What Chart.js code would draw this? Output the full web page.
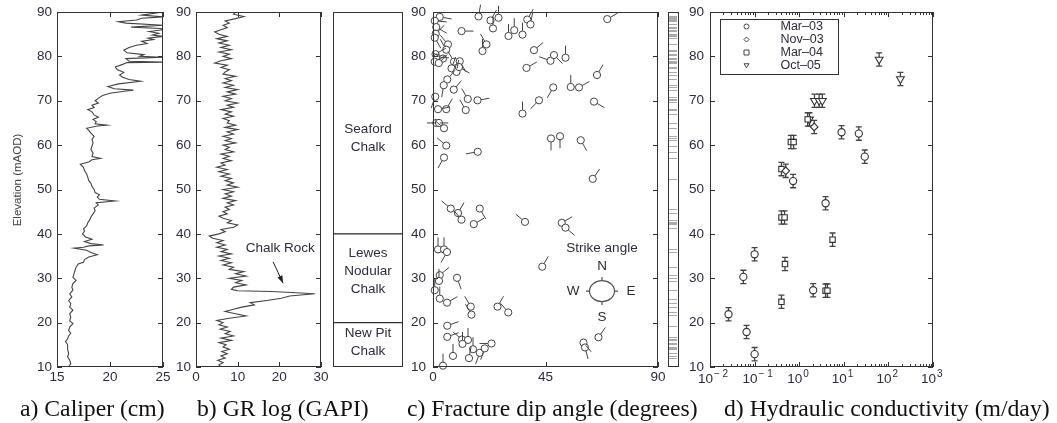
<!DOCTYPE html>
<html>
<head>
<meta charset="utf-8">
<script src="https://cdn.jsdelivr.net/npm/chart.js@4.4.0/dist/chart.umd.min.js"></script>
<style>
  body { margin: 0; background: #fff; width: 1057px; height: 423px; position: relative; overflow: hidden; }
  canvas { position: absolute; top: 0; }
  .cap { position: absolute; top: 397px; font: 23.7px "Liberation Serif", "Times New Roman", serif; color: #111; white-space: nowrap; line-height: 1; }
</style>
</head>
<body>
<canvas id="cal" width="172" height="423" style="left:0px"></canvas>
<canvas id="gr" width="156" height="423" style="left:172px"></canvas>
<canvas id="strat" width="80" height="423" style="left:328px"></canvas>
<canvas id="frac" width="278" height="423" style="left:408px"></canvas>
<canvas id="hyd" width="371" height="423" style="left:686px"></canvas>
<div class="cap" style="left:20px">a) Caliper (cm)</div>
<div class="cap" style="left:197px">b) GR log (GAPI)</div>
<div class="cap" style="left:407px">c) Fracture dip angle (degrees)</div>
<div class="cap" style="left:724px">d) Hydraulic conductivity (m/day)</div>
<script>
// ---- data ----
// [elevation mAOD, caliper cm]
const caliperLog = [
  [10.0,16.1],[10.8,16.3],[11.5,16.2],[12.3,16.0],[13.0,16.1],[14.0,16.0],[15.0,16.0],[15.8,15.8],
  [16.3,16.0],[17.0,16.1],[17.6,16.3],[18.2,16.1],[19.0,16.2],[19.8,16.5],[20.4,16.2],[21.2,16.3],
  [22.0,16.2],[22.8,16.5],[23.5,16.2],[24.3,16.3],[25.0,16.1],[25.8,16.4],[26.5,16.2],[27.3,16.5],
  [28.0,16.4],[28.8,16.5],[29.5,16.8],[30.2,16.5],[31.0,16.6],[31.8,16.7],[32.5,16.8],[33.2,17.0],
  [33.6,17.5],[34.2,17.6],[34.8,18.0],[35.3,18.8],[35.8,18.2],[36.3,17.8],[36.8,16.6],[37.0,17.5],
  [37.3,18.0],[37.5,19.4],[37.8,18.2],[38.3,17.6],[38.8,18.3],[39.3,17.7],[40.0,17.4],[40.6,17.6],
  [41.2,17.5],[41.8,17.8],[42.5,17.9],[43.2,18.1],[43.8,18.2],[44.5,18.4],[45.2,18.6],[45.8,18.5],
  [46.5,18.9],[47.0,18.7],[47.4,20.5],[47.8,19.0],[48.3,18.8],[48.8,19.0],[49.3,18.6],[50.0,18.5],
  [50.7,18.3],[51.4,18.2],[52.0,18.0],[52.8,17.9],[53.5,17.8],[54.2,17.6],[55.0,17.5],[55.7,17.2],
  [56.2,18.0],[56.7,18.3],[57.0,19.1],[57.4,18.3],[58.2,18.4],[59.0,18.2],[59.8,18.3],[60.5,18.4],
  [61.3,18.3],[62.0,18.5],[62.7,18.2],[63.3,18.0],[63.8,17.8],[64.3,18.8],[64.5,19.7],[64.8,18.6],
  [65.3,18.7],[65.8,18.4],[66.3,18.9],[66.8,18.5],[67.5,18.3],[68.0,17.9],[68.5,18.5],[69.0,18.3],
  [69.5,18.9],[70.0,18.6],[70.6,18.9],[71.2,19.3],[71.7,20.0],[72.2,21.5],[72.4,22.2],[72.7,20.4],
  [73.2,19.8],[73.8,20.8],[74.4,22.9],[74.8,21.8],[75.3,21.2],[75.8,20.9],[76.4,21.3],[77.0,20.7],
  [77.6,20.5],[78.2,21.2],[78.6,21.6],[78.7,25.0],[78.9,21.8],[79.5,21.5],[79.8,25.0],[80.0,22.8],
  [80.4,23.2],[80.8,21.6],[81.4,21.3],[82.0,21.8],[82.5,22.5],[82.9,23.5],[83.4,23.0],[83.8,24.1],
  [84.1,23.6],[84.5,25.0],[84.8,24.0],[85.2,24.6],[85.6,23.7],[86.0,25.0],[86.3,24.8],[86.6,22.0],
  [87.0,25.0],[87.5,21.5],[87.8,20.8],[88.2,22.5],[88.6,23.0],[88.9,25.0],[89.3,23.0],[90.0,25.0]
];

// [elevation mAOD, gamma ray GAPI]
const grLog = [
  [10.0,6.0],[10.5,5.5],[11.0,6.5],[11.5,5.2],[12.0,7.0],[12.5,6.0],[13.0,7.5],[13.5,6.2],[14.0,8.0],
  [14.5,6.5],[15.0,7.2],[15.5,5.5],[16.0,8.5],[16.5,6.0],[17.0,9.0],[17.5,7.0],[18.0,8.2],[18.5,5.8],
  [19.0,7.5],[19.5,5.5],[20.0,6.5],[20.5,5.0],[21.0,8.0],[21.5,12.0],[22.0,9.5],[22.5,7.0],[23.0,9.0],
  [23.5,11.0],[24.0,14.0],[24.5,13.0],[25.0,17.0],[25.5,20.5],[26.0,22.5],[26.5,28.5],[26.8,23.0],
  [27.0,18.0],[27.2,10.0],[27.5,8.5],[28.0,9.0],[28.5,12.0],[29.0,9.5],[29.5,11.0],[30.0,8.0],
  [30.5,12.0],[31.0,9.5],[31.5,11.5],[32.0,8.0],[32.5,9.0],[33.0,6.5],[33.5,8.5],[34.0,6.0],[34.5,8.0],
  [35.0,5.5],[35.5,8.5],[36.0,6.0],[36.5,7.5],[37.0,5.0],[37.5,7.0],[38.0,5.0],[38.5,6.5],[39.0,4.0],
  [39.5,3.2],[40.0,5.5],[40.5,7.0],[41.0,6.0],[41.5,9.0],[42.0,10.0],[42.5,7.5],[43.0,8.5],[43.5,6.5],
  [44.0,5.5],[44.5,7.5],[45.0,6.5],[45.5,8.0],[46.0,7.0],[46.5,9.0],[47.0,7.5],[47.5,9.5],[48.0,6.5],
  [48.5,8.5],[49.0,7.0],[49.5,9.0],[50.0,6.5],[50.5,10.0],[51.0,7.5],[51.5,9.0],[52.0,7.0],[52.5,8.5],
  [53.0,6.0],[53.5,8.0],[54.0,5.5],[54.5,7.5],[55.0,5.0],[55.5,7.0],[56.0,6.0],[56.5,8.5],[57.0,6.5],
  [57.5,8.0],[58.0,6.0],[58.5,9.0],[59.0,7.0],[59.5,8.0],[60.0,6.5],[60.5,9.5],[61.0,7.0],[61.5,8.5],
  [62.0,6.5],[62.5,9.0],[63.0,7.5],[63.5,10.0],[64.0,7.0],[64.5,9.5],[65.0,7.5],[65.5,8.0],[66.0,6.5],
  [66.5,9.0],[67.0,7.0],[67.5,8.5],[68.0,6.0],[68.5,9.0],[69.0,7.5],[69.5,10.0],[70.0,7.0],[70.5,8.5],
  [71.0,6.5],[71.5,9.5],[72.0,7.5],[72.5,10.0],[73.0,7.0],[73.5,9.0],[74.0,6.5],[74.5,8.5],[75.0,7.0],
  [75.5,9.5],[76.0,6.5],[76.5,7.0],[77.0,8.0],[77.5,6.0],[78.0,7.5],[78.5,4.5],[79.0,6.0],[79.5,8.5],
  [80.0,6.5],[80.5,8.0],[81.0,5.5],[81.5,8.5],[82.0,6.0],[82.5,8.0],[83.0,5.5],[83.5,7.5],[84.0,5.0],
  [84.5,7.5],[85.0,5.5],[85.5,4.5],[86.0,6.0],[86.5,7.5],[87.0,6.5],[87.5,8.0],[88.0,7.0],[88.5,9.5],
  [89.0,11.5],[89.5,9.0],[90.0,9.5]
];

// stratigraphy
const unitNames = [["New Pit", "Chalk"], ["Lewes", "Nodular", "Chalk"], ["Seaford", "Chalk"]];
const unitRanges = [[10, 20], [20, 40], [40, 90]];

// fractures: dip (deg), elevation (mAOD), strike (deg from N)
const fracDip = [2.7,0.7,1.3,1.1,0.7,6.0,5.3,1.0,1.6,0.7,4.0,2.3,8.4,10.7,7.4,9.4,10.4,5.7,4.3,8.3,
  0.9,2.0,5.3,13.1,13.9,17.8,1.3,2.4,4.4,5.3,4.4,17.9,18.2,23.0,24.0,26.2,19.8,21.4,11.4,30.2,
  32.5,35.8,37.7,39.0,40.4,37.4,47.0,48.4,53.0,35.8,42.4,48.1,55.1,58.4,65.6,69.7,64.4,47.2,50.8,59.1,
  63.9,7.1,10.0,11.4,18.7,16.3,36.8,51.5,53.0,43.7,2.0,4.4,5.6,2.7,2.4,0.7,2.7,5.6,9.6,15.1,
  15.4,25.8,30.1,5.7,5.7,11.6,14.0,11.8,16.0,14.4,18.7,20.7,23.4,8.0,4.0,60.2,60.8,66.2];
const fracElev = [88.9,88.0,86.6,85.1,84.2,82.7,81.5,80.5,79.7,78.8,79.5,78.5,78.8,78.9,77.3,76.5,77.6,74.8,73.5,72.5,
  70.9,68.1,68.1,67.9,70.4,70.1,65.0,65.0,63.8,59.9,57.2,58.5,89.0,88.1,86.3,88.7,81.2,82.7,85.7,84.6,
  85.9,84.9,88.3,87.2,81.4,77.4,79.0,80.3,79.7,67.1,70.1,73.0,73.1,73.0,75.8,88.4,69.8,61.5,62.0,61.1,
  52.4,45.7,44.7,43.2,45.7,42.2,42.7,42.5,41.4,32.6,36.5,36.5,35.9,30.7,29.4,27.3,25.4,24.5,30.1,23.6,
  21.8,23.6,22.3,19.3,16.8,16.2,16.1,15.2,14.0,12.0,13.2,14.2,15.3,12.5,10.3,15.5,14.4,16.7];
const fracStrike = [100,95,120,45,150,320,330,60,90,60,300,45,330,150,20,10,120,40,190,40,
  200,80,30,330,330,80,90,270,310,310,210,260,10,30,0,0,0,330,90,0,
  0,0,30,10,50,60,290,135,0,0,225,210,0,60,30,60,120,180,180,150,
  35,310,30,320,150,60,310,60,130,30,0,0,210,50,0,0,0,60,160,330,
  330,30,320,70,70,310,0,0,0,10,200,200,270,0,0,140,165,35];

// hydraulic conductivity (m/day) and test elevation (mAOD)
const mar03K = [8.9, 21.7, 29.5, 0.73, 3.9, 0.026, 0.056, 0.066, 0.10, 0.10, 2.06];
const mar03Elev = [62.9, 62.6, 57.4, 51.9, 46.9, 21.9, 30.3, 17.9, 35.4, 12.9, 27.3];
const nov03K = [2.17, 0.5];
const nov03Elev = [64.1, 54.2];
const mar04K = [0.40, 0.40, 0.47, 0.48, 0.40, 5.6, 3.9, 4.3, 0.65, 0.75, 1.55];
const mar04Elev = [54.6, 43.7, 43.7, 33.2, 24.7, 38.7, 27.2, 27.2, 60.7, 60.7, 65.8];
const oct05K = [62, 186, 2.2, 2.8, 3.3, 1.7];
const oct05Elev = [79.3, 74.9, 70.0, 70.0, 70.0, 65.8];
const elevErr = 1.5;

// ---- styling ----
const INK = '#333';
const TXT = '#2d2d3d';
const FONT = '"Liberation Sans", Arial, sans-serif';
Chart.defaults.font.family = FONT;
Chart.defaults.font.size = 13.5;
Chart.defaults.color = TXT;

function panelOptions(o) {
  return {
    responsive: false, animation: false, devicePixelRatio: 1,
    layout: { padding: { top: 12, bottom: 36, left: 0, right: o.padRight } },
    plugins: { legend: { display: false }, tooltip: { enabled: false }, box: o.box || {} },
    scales: {
      x: {
        type: o.xtype || 'linear', min: o.xmin, max: o.xmax,
        ticks: { stepSize: o.xstep, padding: 2, display: o.xlabels !== false, maxRotation: 0, autoSkip: false },
        grid: { display: false, drawTicks: false }, border: { display: false },
        afterBuildTicks: o.xticks,
        afterFit: s => { s.height = 20; s.paddingLeft = 0; s.paddingRight = 0; }
      },
      y: {
        min: 10, max: 90,
        ticks: { stepSize: 10, padding: o.ypad || 5 },
        grid: { display: false, drawTicks: false }, border: { display: false },
        afterFit: s => { s.width = o.yWidth; s.paddingTop = 0; s.paddingBottom = 0; }
      }
    }
  };
}

// frame with inward ticks on all four sides
const boxPlugin = {
  id: 'box',
  afterDraw(chart, args, opts) {
    const ctx = chart.ctx, a = chart.chartArea;
    ctx.save();
    ctx.strokeStyle = INK; ctx.lineWidth = 1;
    ctx.strokeRect(a.left + 0.5, a.top + 0.5, a.right - a.left - 1, a.bottom - a.top - 1);
    if (opts.ticks !== false) {
      ctx.beginPath();
      ['x', 'y'].forEach(id => {
        const s = chart.scales[id];
        s.ticks.forEach(t => {
          const lg = Math.log10(t.value);
          const minor = opts.logX && id === 'x' && Math.abs(lg - Math.round(lg)) > 1e-6;
          const len = minor ? 3 : 5;
          const p = Math.round(s.getPixelForValue(t.value)) + 0.5;
          if (id === 'x') {
            ctx.moveTo(p, a.bottom); ctx.lineTo(p, a.bottom - len);
            ctx.moveTo(p, a.top); ctx.lineTo(p, a.top + len);
          } else {
            ctx.moveTo(a.left, p); ctx.lineTo(a.left + len, p);
            ctx.moveTo(a.right, p); ctx.lineTo(a.right - len, p);
          }
        });
      });
      ctx.stroke();
    }
    if (opts.logX) {
      const s = chart.scales.x;
      ctx.fillStyle = TXT;
      for (let e = -2; e <= 3; e++) {
        const p = s.getPixelForValue(Math.pow(10, e));
        ctx.font = '13.5px ' + FONT; ctx.textAlign = 'right'; ctx.textBaseline = 'middle';
        ctx.fillText('10', p + 3, a.bottom + 12);
        ctx.font = '10px ' + FONT; ctx.textAlign = 'left';
        ctx.fillText(e < 0 ? '\u2212 ' + (-e) : String(e), p + 4, a.bottom + 7);
      }
    }
    ctx.restore();
  }
};

// a) caliper
new Chart(document.getElementById('cal'), {
  type: 'scatter',
  data: { datasets: [{ data: caliperLog.map(([e, v]) => ({ x: v, y: e })), showLine: true,
    borderColor: '#444', borderWidth: 1.1, pointRadius: 0 }] },
  options: panelOptions({ xmin: 15, xmax: 25, xstep: 5, yWidth: 57, padRight: 9 }),
  plugins: [boxPlugin, {
    id: 'ytitle',
    afterDraw(chart) {
      const ctx = chart.ctx;
      ctx.save();
      ctx.translate(18, 180); ctx.rotate(-Math.PI / 2);
      ctx.font = '11.5px ' + FONT; ctx.fillStyle = '#444';
      ctx.textAlign = 'center'; ctx.textBaseline = 'middle';
      ctx.fillText('Elevation (mAOD)', 0, 0);
      ctx.restore();
    }
  }]
});

// b) gamma ray
new Chart(document.getElementById('gr'), {
  type: 'scatter',
  data: { datasets: [{ data: grLog.map(([e, v]) => ({ x: v, y: e })), showLine: true,
    borderColor: '#444', borderWidth: 1.1, pointRadius: 0 }] },
  options: panelOptions({ xmin: 0, xmax: 30, xstep: 10, yWidth: 24, padRight: 7 }),
  plugins: [boxPlugin, {
    id: 'chalkRock',
    afterDraw(chart) {
      const ctx = chart.ctx, x = chart.scales.x, y = chart.scales.y;
      ctx.save();
      ctx.font = '13.5px ' + FONT; ctx.fillStyle = TXT;
      ctx.textAlign = 'center'; ctx.textBaseline = 'middle';
      ctx.fillText('Chalk Rock', x.getPixelForValue(20.2), y.getPixelForValue(36.8));
      const x1 = x.getPixelForValue(18.5), y1 = y.getPixelForValue(33.7);
      const x2 = x.getPixelForValue(20.9), y2 = y.getPixelForValue(28.9);
      ctx.strokeStyle = '#222'; ctx.fillStyle = '#222'; ctx.lineWidth = 1;
      ctx.beginPath(); ctx.moveTo(x1, y1); ctx.lineTo(x2, y2); ctx.stroke();
      const ang = Math.atan2(y2 - y1, x2 - x1);
      ctx.beginPath();
      ctx.moveTo(x2, y2);
      ctx.lineTo(x2 - 8 * Math.cos(ang - 0.35), y2 - 8 * Math.sin(ang - 0.35));
      ctx.lineTo(x2 - 8 * Math.cos(ang + 0.35), y2 - 8 * Math.sin(ang + 0.35));
      ctx.closePath(); ctx.fill();
      ctx.restore();
    }
  }]
});

// stratigraphic column
new Chart(document.getElementById('strat'), {
  type: 'bar',
  data: { labels: [''], datasets: unitRanges.map(r => ({ data: [r], backgroundColor: '#fff',
    borderColor: INK, borderWidth: 1, borderSkipped: false, grouped: false,
    barPercentage: 1, categoryPercentage: 1 })) },
  options: {
    responsive: false, animation: false, devicePixelRatio: 1,
    layout: { padding: { top: 12, bottom: 56, left: 5, right: 5 } },
    plugins: { legend: { display: false }, tooltip: { enabled: false }, box: { ticks: false } },
    scales: { x: { display: false }, y: { display: false, min: 10, max: 90 } }
  },
  plugins: [boxPlugin, {
    id: 'units',
    afterDraw(chart) {
      const ctx = chart.ctx, a = chart.chartArea, y = chart.scales.y;
      const labelElev = [15.5, 31.5, 61.5];
      ctx.save();
      ctx.font = '13.5px ' + FONT; ctx.fillStyle = TXT;
      ctx.textAlign = 'center'; ctx.textBaseline = 'middle';
      unitNames.forEach((lines, i) => {
        const c = y.getPixelForValue(labelElev[i]);
        lines.forEach((t, k) => ctx.fillText(t, (a.left + a.right) / 2, c + (k - (lines.length - 1) / 2) * 18));
      });
      ctx.restore();
    }
  }]
});

// c) fracture dip angle
new Chart(document.getElementById('frac'), {
  type: 'scatter',
  data: { datasets: [{ data: fracDip.map((d, i) => ({ x: d, y: fracElev[i] })),
    pointStyle: 'circle', pointRadius: 3.6, borderColor: '#444', borderWidth: 1, backgroundColor: '#fff' }] },
  options: Object.assign(panelOptions({ xmin: 0, xmax: 90, xstep: 45, yWidth: 25, padRight: 28, ypad: 7 }), { clip: false }),
  plugins: [boxPlugin, {
    id: 'tails',
    afterDatasetsDraw(chart) {
      const ctx = chart.ctx, a = chart.chartArea, ys = chart.scales.y;
      ctx.save();
      ctx.strokeStyle = '#444'; ctx.lineWidth = 1;
      ctx.beginPath();
      chart.getDatasetMeta(0).data.forEach((pt, i) => {
        const t = fracStrike[i] * Math.PI / 180, dx = Math.sin(t), dy = -Math.cos(t);
        ctx.moveTo(pt.x + dx * 3.6, pt.y + dy * 3.6);
        ctx.lineTo(pt.x + dx * 12, pt.y + dy * 12);
      });
      ctx.stroke();
      // image-log strip
      const sx = a.right + 10;
      ctx.strokeStyle = '#aaa';
      ctx.beginPath();
      fracElev.forEach(e => {
        const p = Math.round(ys.getPixelForValue(e)) + 0.5;
        ctx.moveTo(sx + 1, p); ctx.lineTo(sx + 9, p);
      });
      ctx.stroke();
      ctx.strokeStyle = INK;
      ctx.strokeRect(sx + 0.5, a.top + 0.5, 10, a.bottom - a.top - 1);
      // strike-angle compass
      const cx = chart.scales.x.getPixelForValue(67.6), cy = ys.getPixelForValue(27.1);
      ctx.font = '13.5px ' + FONT; ctx.fillStyle = TXT;
      ctx.textAlign = 'center'; ctx.textBaseline = 'middle';
      ctx.fillText('Strike angle', cx, cy - 43);
      ctx.fillText('N', cx, cy - 25);
      ctx.fillText('S', cx, cy + 26);
      ctx.fillText('W', cx - 29, cy);
      ctx.fillText('E', cx + 29, cy);
      ctx.strokeStyle = '#555'; ctx.lineWidth = 1.2;
      ctx.beginPath(); ctx.ellipse(cx, cy, 12.5, 10.5, 0, 0, 2 * Math.PI); ctx.stroke();
      ctx.beginPath();
      ctx.moveTo(cx, cy - 10.5); ctx.lineTo(cx, cy - 14);
      ctx.moveTo(cx, cy + 10.5); ctx.lineTo(cx, cy + 14);
      ctx.moveTo(cx - 12.5, cy); ctx.lineTo(cx - 16, cy);
      ctx.moveTo(cx + 12.5, cy); ctx.lineTo(cx + 16, cy);
      ctx.stroke();
      ctx.restore();
    }
  }]
});

// d) hydraulic conductivity
const logTicks = [];
for (let e = -2; e < 3; e++) for (let m = 1; m <= 9; m++) logTicks.push(m * Math.pow(10, e));
logTicks.push(1000);

const hydSeries = [
  { label: 'Mar\u201303', k: mar03K, e: mar03Elev, style: 'circle', r: 3.6, rot: 0 },
  { label: 'Nov\u201303', k: nov03K, e: nov03Elev, style: 'rectRot', r: 3.8, rot: 0 },
  { label: 'Mar\u201304', k: mar04K, e: mar04Elev, style: 'rect', r: 3.8, rot: 0 },
  { label: 'Oct\u201305', k: oct05K, e: oct05Elev, style: 'triangle', r: 4.5, rot: 180 }
];

function drawMarker(ctx, style, x, y, r) {
  ctx.beginPath();
  if (style === 'circle') ctx.arc(x, y, r, 0, 2 * Math.PI);
  else if (style === 'rectRot') { ctx.moveTo(x, y - r); ctx.lineTo(x + r, y); ctx.lineTo(x, y + r); ctx.lineTo(x - r, y); ctx.closePath(); }
  else if (style === 'rect') ctx.rect(x - r, y - r, 2 * r, 2 * r);
  else { ctx.moveTo(x - r, y - r * 0.7); ctx.lineTo(x + r, y - r * 0.7); ctx.lineTo(x, y + r * 0.9); ctx.closePath(); }
  ctx.fill(); ctx.stroke();
}

const hydOpts = panelOptions({ xtype: 'logarithmic', xmin: 0.01, xmax: 1000, yWidth: 24, padRight: 124, ypad: 6,
  xlabels: false, box: { logX: true },
  xticks: s => { s.ticks = logTicks.map(v => ({ value: v })); } });

new Chart(document.getElementById('hyd'), {
  type: 'scatter',
  data: { datasets: hydSeries.map(s => ({
    label: s.label, data: s.k.map((k, i) => ({ x: k, y: s.e[i] })),
    pointStyle: s.style, pointRadius: s.r, pointRotation: s.rot,
    borderColor: '#333', borderWidth: 1.1, backgroundColor: '#fff' })) },
  options: hydOpts,
  plugins: [boxPlugin, {
    id: 'errbars',
    beforeDatasetsDraw(chart) {
      const ctx = chart.ctx, y = chart.scales.y;
      ctx.save();
      ctx.strokeStyle = '#444'; ctx.lineWidth = 1.3;
      chart.data.datasets.forEach((ds, i) => {
        chart.getDatasetMeta(i).data.forEach((pt, j) => {
          const e = ds.data[j].y;
          const y1 = y.getPixelForValue(e - elevErr), y2 = y.getPixelForValue(e + elevErr);
          ctx.beginPath();
          ctx.moveTo(pt.x, y1); ctx.lineTo(pt.x, y2);
          ctx.moveTo(pt.x - 3, y1); ctx.lineTo(pt.x + 3, y1);
          ctx.moveTo(pt.x - 3, y2); ctx.lineTo(pt.x + 3, y2);
          ctx.stroke();
        });
      });
      ctx.restore();
    },
    afterDraw(chart) {
      const ctx = chart.ctx, a = chart.chartArea;
      const bx = a.left + 10.5, by = a.top + 7.5, bw = 118, bh = 55;
      ctx.save();
      ctx.fillStyle = '#fff'; ctx.strokeStyle = INK; ctx.lineWidth = 1;
      ctx.fillRect(bx, by, bw, bh); ctx.strokeRect(bx, by, bw, bh);
      hydSeries.forEach((s, i) => {
        const ry = by + 7 + i * 13;
        ctx.fillStyle = '#fff'; ctx.strokeStyle = '#444'; ctx.lineWidth = 1;
        drawMarker(ctx, s.style, bx + 26, ry, 2.5);
        ctx.fillStyle = TXT; ctx.font = '12.5px ' + FONT;
        ctx.textAlign = 'left'; ctx.textBaseline = 'middle';
        ctx.fillText(s.label, bx + 60, ry);
      });
      ctx.restore();
    }
  }]
});
</script>
</body>
</html>
